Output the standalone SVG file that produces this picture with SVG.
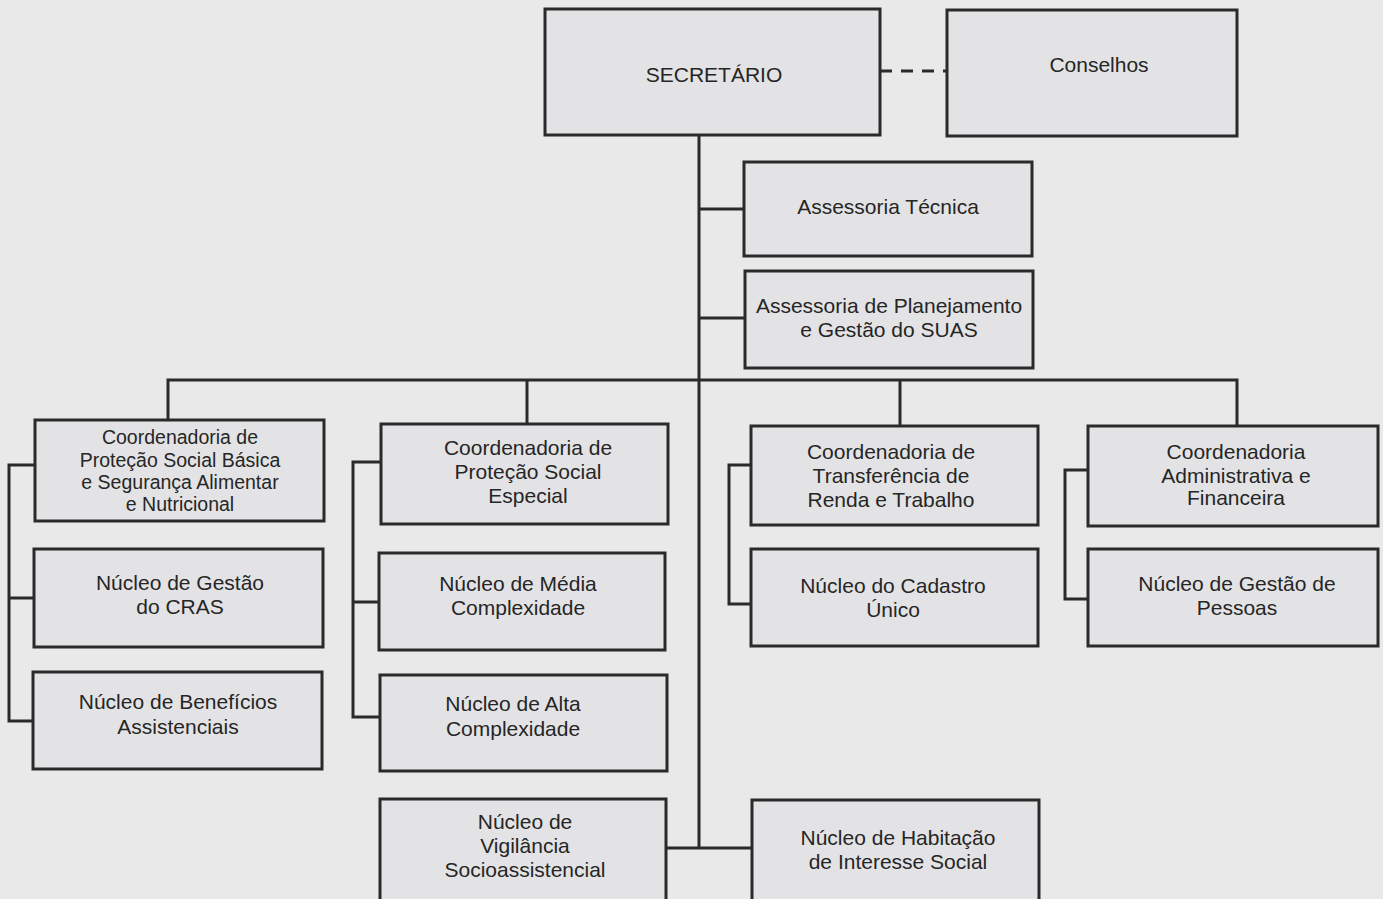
<svg xmlns="http://www.w3.org/2000/svg" width="1383" height="899" viewBox="0 0 1383 899">
  <style>
    .box { fill: #e3e3e5; stroke: #2a2a2a; stroke-width: 3; }
    .lbl { font-family: "Liberation Sans", Arial, sans-serif; font-size: 21px; fill: #262626; text-anchor: middle; }
    .sm { font-size: 19.5px; }
    .wire { fill: none; stroke: #2a2a2a; stroke-width: 3; }
    .dash { stroke-dasharray: 12 9; }
  </style>
  <rect x="0" y="0" width="1383" height="899" fill="#e9e9ea"/>

  <g id="connectors">
    <line class="wire dash" x1="880" y1="71" x2="947" y2="71"/>
    <line class="wire" x1="699" y1="135" x2="699" y2="848"/>
    <line class="wire" x1="699" y1="209" x2="744" y2="209"/>
    <line class="wire" x1="699" y1="318" x2="745" y2="318"/>
    <polyline class="wire" points="168,420 168,380 1237,380 1237,426"/>
    <line class="wire" x1="527" y1="380" x2="527" y2="424"/>
    <line class="wire" x1="900" y1="380" x2="900" y2="426"/>
    <polyline class="wire" points="666,848 752,848"/>
    <polyline class="wire" points="35,465 9,465 9,721 33,721"/>
    <line class="wire" x1="9" y1="598" x2="34" y2="598"/>
    <polyline class="wire" points="381,462 353,462 353,717 380,717"/>
    <line class="wire" x1="353" y1="602" x2="379" y2="602"/>
    <polyline class="wire" points="751,465 729,465 729,604 751,604"/>
    <polyline class="wire" points="1088,470 1065,470 1065,599 1088,599"/>
  </g>

  <g id="secretario">
    <rect class="box" x="545" y="9" width="335" height="126"/>
    <text class="lbl" x="714" y="82">SECRETÁRIO</text>
  </g>
  <g id="conselhos">
    <rect class="box" x="947" y="10" width="290" height="126"/>
    <text class="lbl" x="1099" y="72">Conselhos</text>
  </g>
  <g id="assessoria-tecnica">
    <rect class="box" x="744" y="162" width="288" height="94"/>
    <text class="lbl" x="888" y="214">Assessoria Técnica</text>
  </g>
  <g id="assessoria-planejamento">
    <rect class="box" x="745" y="271" width="288" height="97"/>
    <text class="lbl" x="889" y="313">Assessoria de Planejamento</text>
    <text class="lbl" x="889" y="337">e Gestão do SUAS</text>
  </g>

  <g id="coord-protecao-basica">
    <rect class="box" x="35" y="420" width="289" height="101"/>
    <text class="lbl sm" x="180" y="444">Coordenadoria de</text>
    <text class="lbl sm" x="180" y="467">Proteção Social Básica</text>
    <text class="lbl sm" x="180" y="489">e Segurança Alimentar</text>
    <text class="lbl sm" x="180" y="511">e Nutricional</text>
  </g>
  <g id="nucleo-cras">
    <rect class="box" x="34" y="549" width="289" height="98"/>
    <text class="lbl" x="180" y="590">Núcleo de Gestão</text>
    <text class="lbl" x="180" y="614">do CRAS</text>
  </g>
  <g id="nucleo-beneficios">
    <rect class="box" x="33" y="672" width="289" height="97"/>
    <text class="lbl" x="178" y="709">Núcleo de Benefícios</text>
    <text class="lbl" x="178" y="734">Assistenciais</text>
  </g>

  <g id="coord-protecao-especial">
    <rect class="box" x="381" y="424" width="287" height="100"/>
    <text class="lbl" x="528" y="455">Coordenadoria de</text>
    <text class="lbl" x="528" y="479">Proteção Social</text>
    <text class="lbl" x="528" y="503">Especial</text>
  </g>
  <g id="nucleo-media">
    <rect class="box" x="379" y="553" width="286" height="97"/>
    <text class="lbl" x="518" y="591">Núcleo de Média</text>
    <text class="lbl" x="518" y="615">Complexidade</text>
  </g>
  <g id="nucleo-alta">
    <rect class="box" x="380" y="675" width="287" height="96"/>
    <text class="lbl" x="513" y="711">Núcleo de Alta</text>
    <text class="lbl" x="513" y="736">Complexidade</text>
  </g>
  <g id="nucleo-vigilancia">
    <rect class="box" x="380" y="799" width="286" height="110"/>
    <text class="lbl" x="525" y="829">Núcleo de</text>
    <text class="lbl" x="525" y="853">Vigilância</text>
    <text class="lbl" x="525" y="877">Socioassistencial</text>
  </g>

  <g id="coord-transferencia">
    <rect class="box" x="751" y="426" width="287" height="99"/>
    <text class="lbl" x="891" y="459">Coordenadoria de</text>
    <text class="lbl" x="891" y="483">Transferência de</text>
    <text class="lbl" x="891" y="507">Renda e Trabalho</text>
  </g>
  <g id="nucleo-cadastro">
    <rect class="box" x="751" y="549" width="287" height="97"/>
    <text class="lbl" x="893" y="593">Núcleo do Cadastro</text>
    <text class="lbl" x="893" y="617">Único</text>
  </g>
  <g id="nucleo-habitacao">
    <rect class="box" x="752" y="800" width="287" height="110"/>
    <text class="lbl" x="898" y="845">Núcleo de Habitação</text>
    <text class="lbl" x="898" y="869">de Interesse Social</text>
  </g>

  <g id="coord-administrativa">
    <rect class="box" x="1088" y="426" width="290" height="100"/>
    <text class="lbl" x="1236" y="459">Coordenadoria</text>
    <text class="lbl" x="1236" y="483">Administrativa e</text>
    <text class="lbl" x="1236" y="505">Financeira</text>
  </g>
  <g id="nucleo-pessoas">
    <rect class="box" x="1088" y="549" width="290" height="97"/>
    <text class="lbl" x="1237" y="591">Núcleo de Gestão de</text>
    <text class="lbl" x="1237" y="615">Pessoas</text>
  </g>
</svg>
